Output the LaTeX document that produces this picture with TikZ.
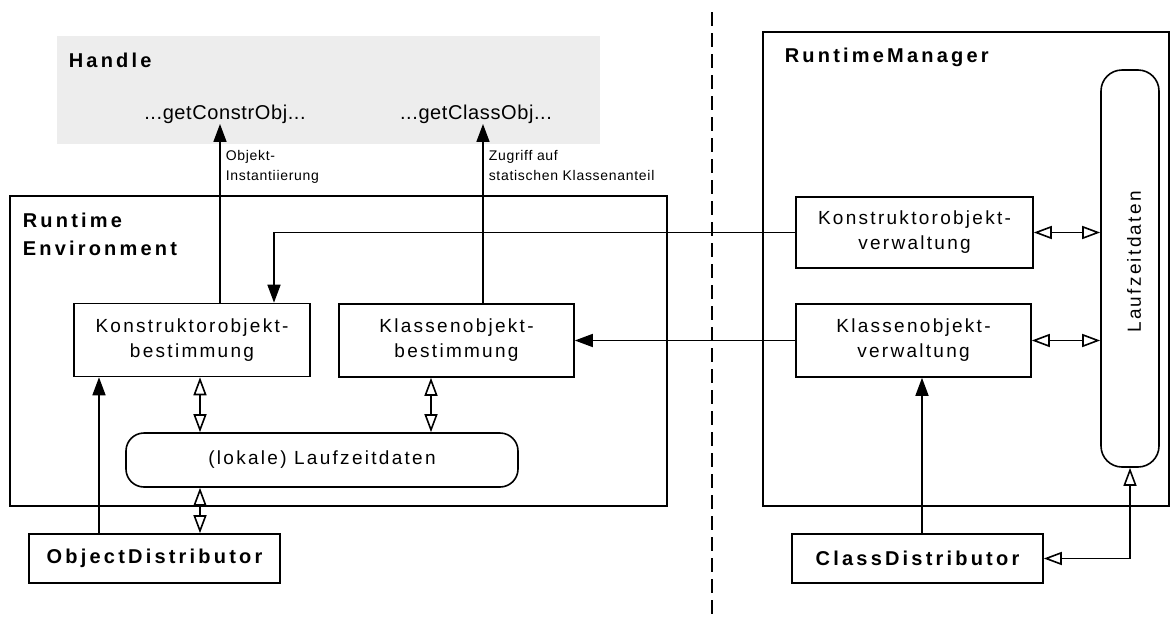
\documentclass[tikz,border=0pt]{standalone}
\usepackage{fontspec}
\setmainfont{Liberation Sans}
\newfontfamily\boxfont[LetterSpace=12]{Liberation Sans}
\newfontfamily\headfont[LetterSpace=16]{Liberation Sans}
\newfontfamily\notefont[LetterSpace=5]{Liberation Sans}
\newfontfamily\methfont[LetterSpace=3]{Liberation Sans}
\usetikzlibrary{arrows.meta}
\definecolor{handlegray}{HTML}{EDEDED}

\begin{document}
\begin{tikzpicture}[x=1pt, y=-1pt, line width=1.6pt,
  blk/.style={draw, rectangle, inner sep=0pt, align=center,
    font={\boxfont\fontsize{19}{25}\selectfont}},
  rblk/.style={blk, rounded corners=18pt},
  distbox/.style={draw, rectangle, inner sep=0pt,
    font={\headfont\bfseries\fontsize{20}{28}\selectfont}},
  frame/.style={draw, rectangle, inner sep=0pt},
  headtext/.style={inner sep=0pt, align=left,
    font={\headfont\bfseries\fontsize{20}{28}\selectfont}},
  notetext/.style={inner sep=0pt, align=left,
    font={\notefont\fontsize{14}{20}\selectfont}},
  methtext/.style={inner sep=0pt, font={\methfont\fontsize{20}{24}\selectfont}},
  fa/.style={-{Triangle[length=18pt,width=13pt]}},
  oa/.style={{Triangle[length=18pt,width=13pt,fill=white]}-{Triangle[length=18pt,width=13pt,fill=white]}},
  sepline/.style={line width=1.3pt, dash pattern=on 14pt off 7pt}
]
\useasboundingbox (0,0) rectangle (1170,619);

% separator between client and server side
\coordinate (d1) at (712,12);
\coordinate (d2) at (712,619);
\draw[sepline] (d1) -- (d2);

% Handle area
\node[fill=handlegray, minimum width=543pt, minimum height=108pt, inner sep=0pt] (handle) at (328.5,90) {};
\node[headtext, anchor=base west] (handleT) at (68,67) {Handle};
\node[methtext, anchor=base] (mc) at (225,119) {...getConstrObj...};
\node[methtext, anchor=base] (mk) at (476,119) {...getClassObj...};

% containers
\node[frame, minimum width=657pt, minimum height=310pt] (env) at (338.5,351) {};
\node[headtext, anchor=north west] (envT) at (22,212) {Runtime\\Environment};
\node[frame, minimum width=406pt, minimum height=474pt] (rm) at (966,269) {};
\node[headtext, anchor=base west] (rmT) at (784,62) {RuntimeManager};

% runtime environment parts
\node[blk, minimum width=236pt, minimum height=73pt] (konB) at (192,340) {Konstruktorobjekt-\\bestimmung};
\node[blk, minimum width=235pt, minimum height=73pt] (klaB) at (456.5,340.5) {Klassenobjekt-\\bestimmung};
\node[rblk, minimum width=392pt, minimum height=54pt] (lok) at (322,460) {(lokale) Laufzeitdaten};
\node[distbox, minimum width=251pt, minimum height=49pt] (objD) at (154.5,558.5) {ObjectDistributor};

% runtime manager parts
\node[blk, minimum width=237pt, minimum height=71pt] (konV) at (914.5,232.5) {Konstruktorobjekt-\\verwaltung};
\node[blk, minimum width=235pt, minimum height=73pt] (klaV) at (913.5,340.5) {Klassenobjekt-\\verwaltung};
\node[rblk, rounded corners=21pt, minimum width=58pt, minimum height=397pt] (lauf) at (1130,268.5) {};
\node[inner sep=0pt, rotate=90, font={\boxfont\fontsize{19}{25}\selectfont}] (laufT) at (1134,262) {Laufzeitdaten};
\node[distbox, minimum width=251pt, minimum height=49pt] (klaD) at (917.5,558.5) {ClassDistributor};

% x positions of vertical connectors
\coordinate (xa) at (220,0);
\coordinate (xb) at (483,0);
\coordinate (xc) at (274,0);
\coordinate (xd) at (200,0);
\coordinate (xe) at (431,0);
\coordinate (xf) at (99,0);
\coordinate (xg) at (922,0);

% calls into the handle
\draw[fa] (konB.north -| xa) -- (mc.south -| xa);
\node[notetext, anchor=north west] (n1) at (225,150) {Objekt-\\Instantiierung};
\draw[fa] (klaB.north -| xb) -- (mk.south -| xb);
\node[notetext, anchor=north west] (n2) at (488,150) {Zugriff auf\\statischen Klassenanteil};

% manager to environment
\draw[fa] (konV.west) -- (konV.west -| xc) -- (konB.north -| xc);
\draw[fa] (klaV.west) -- (klaB.east);

% local runtime data
\draw[oa] (konB.south -| xd) -- (lok.north -| xd);
\draw[oa] (klaB.south -| xe) -- (lok.north -| xe);
\draw[oa] (lok.south -| xd) -- (objD.north -| xd);
\draw[fa] (objD.north -| xf) -- (konB.south -| xf);

% manager internals
\draw[oa] (konV.east) -- (lauf.west |- konV.east);
\draw[oa] (klaV.east) -- (lauf.west |- klaV.east);
\draw[fa] (klaD.north -| xg) -- (klaV.south -| xg);
\draw[oa] (lauf.south) -- (lauf.south |- klaD.east) -- (klaD.east);
\end{tikzpicture}
\end{document}
